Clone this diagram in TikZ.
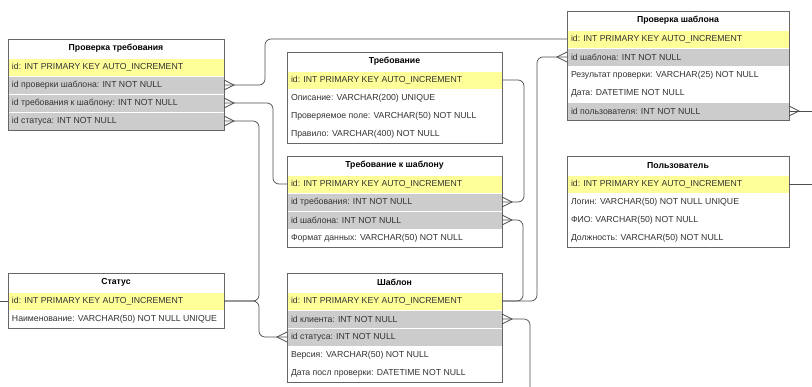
\documentclass[tikz,border=0pt]{standalone}
\usepackage{fontspec}
\setmainfont{Liberation Sans}
\definecolor{ylw}{HTML}{FFFF99}
\definecolor{gry}{HTML}{CCCCCC}
\definecolor{bordercol}{HTML}{666666}
\definecolor{linecol}{HTML}{4D4D4D}
\definecolor{txtcol}{HTML}{333333}
\tikzset{
  ertitle/.style={draw=bordercol, line width=0.7pt, fill=white, minimum height=19, inner sep=0, outer sep=0, font=\fontsize{8.7}{10}\selectfont\bfseries},
  errow/.style={draw=white, line width=0.5pt, minimum height=18, inner sep=0, outer sep=0},
  ertext/.style={inner sep=0, outer sep=0, text=txtcol, font=\fontsize{8.7}{10}\selectfont},
  erborder/.style={draw=bordercol, line width=0.7pt},
  conn/.style={draw=linecol, line width=0.7pt, rounded corners=6},
  crowline/.style={draw=linecol, line width=0.7pt, sharp corners}
}
\newcommand\ertable[7]{%
  \node[ertitle, minimum width=#4, anchor=north west] (#1t) at (#2,#3-28) {#5};
  \foreach \rowfill/\rowtext [count=\i from 0] in {#7}{
    \node[errow, fill=\rowfill, minimum width=#4, anchor=north west] (#1r\i) at (#2,#3-9+18*\i) {};
    \node[ertext, anchor=west] at ([xshift=4]#1r\i.west) {\rowtext};
  }
  \draw[erborder] (#1t.north west) rectangle (#1r#6.south east);
}
\newcommand\crowE[1]{\draw[crowline] ([yshift=5]#1.east) -- ([xshift=10]#1.east) -- ([yshift=-5]#1.east);}
\newcommand\crowW[1]{\draw[crowline] ([yshift=5]#1.west) -- ([xshift=-10]#1.west) -- ([yshift=-5]#1.west);}
\begin{document}
\begin{tikzpicture}[x=1pt,y=-1pt]
\useasboundingbox (0,0) rectangle (812,386);
\clip (0,0) rectangle (812,386);
\fill[white] (0,0) rectangle (812,386);

\ertable{ta}{8}{67}{216}{Проверка требования}{3}{
ylw/id: INT PRIMARY KEY AUTO\_INCREMENT,
gry/id проверки шаблона: INT NOT NULL,
gry/id требования к шаблону: INT NOT NULL,
gry/id статуса: INT NOT NULL}

\ertable{tb}{287}{80}{215}{Требование}{3}{
ylw/id: INT PRIMARY KEY AUTO\_INCREMENT,
white/Описание: VARCHAR(200) UNIQUE,
white/Проверяемое поле: VARCHAR(50) NOT NULL,
white/Правило: VARCHAR(400) NOT NULL}

\ertable{tc}{287}{184}{215}{Требование к шаблону}{3}{
ylw/id: INT PRIMARY KEY AUTO\_INCREMENT,
gry/id требования: INT NOT NULL,
gry/id шаблона: INT NOT NULL,
white/Формат данных: VARCHAR(50) NOT NULL}

\ertable{td}{567}{39}{222}{Проверка шаблона}{4}{
ylw/id: INT PRIMARY KEY AUTO\_INCREMENT,
gry/id шаблона: INT NOT NULL,
white/Результат проверки: VARCHAR(25) NOT NULL,
white/Дата: DATETIME NOT NULL,
gry/id пользователя: INT NOT NULL}

\ertable{te}{567}{184}{222}{Пользователь}{3}{
ylw/id: INT PRIMARY KEY AUTO\_INCREMENT,
white/Логин: VARCHAR(50) NOT NULL UNIQUE,
white/ФИО: VARCHAR(50) NOT NULL,
white/Должность: VARCHAR(50) NOT NULL}

\ertable{tf}{8}{301}{216}{Статус}{1}{
ylw/id: INT PRIMARY KEY AUTO\_INCREMENT,
white/Наименование: VARCHAR(50) NOT NULL UNIQUE}

\ertable{tg}{287}{301}{215}{Шаблон}{4}{
ylw/id: INT PRIMARY KEY AUTO\_INCREMENT,
gry/id клиента: INT NOT NULL,
gry/id статуса: INT NOT NULL,
white/Версия: VARCHAR(50) NOT NULL,
white/Дата посл проверки: DATETIME NOT NULL}

% connectors
\coordinate (gend) at (530,400);
\coordinate (hend) at (825,111);
\coordinate (iend) at (825,184);
\coordinate (jend) at (-10,301);

\draw[conn] (tdr0.west) -| ([xshift=41]tar1.east) -- (tar1.east);
\draw[conn] (tcr0.west) -| ([xshift=49]tar2.east) -- (tar2.east);
\draw[conn] (tfr0.east) -| ([xshift=35]tar3.east) -- (tar3.east);
\draw[conn] (tfr0.east) -| ([xshift=-28]tgr2.west) -- (tgr2.west);
\draw[conn] (tbr0.east) -| ([xshift=22]tcr1.east) -- (tcr1.east);
\draw[conn] (tgr0.east) -| ([xshift=-30]tdr1.west) -- (tdr1.west);
\draw[conn] (tgr0.east) -| ([xshift=21]tcr2.east) -- (tcr2.east);
\draw[conn] (tgr1.east) -| (gend);
\draw[conn] (tdr4.east) -- (hend);
\draw[conn] (ter0.east) -- (iend);
\draw[conn] (tfr0.west) -- (jend);

\crowE{tar1}
\crowE{tar2}
\crowE{tar3}
\crowW{tgr2}
\crowE{tcr1}
\crowW{tdr1}
\crowE{tcr2}
\crowE{tgr1}
\crowE{tdr4}
\end{tikzpicture}
\end{document}
